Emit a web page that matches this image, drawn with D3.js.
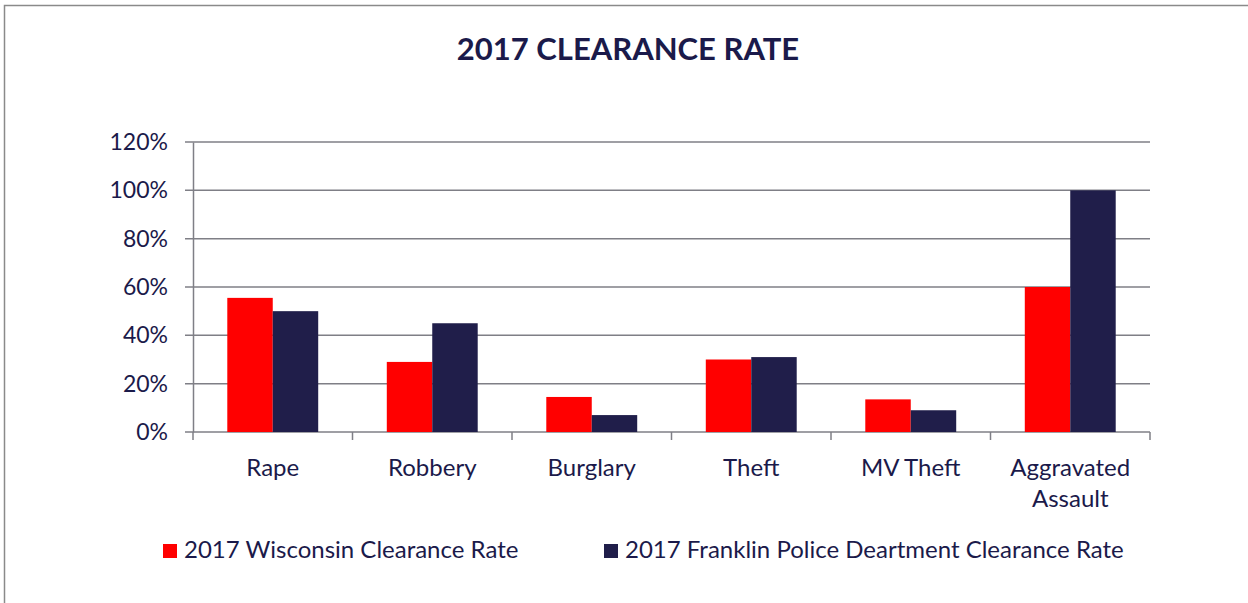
<!DOCTYPE html>
<html>
<head>
<meta charset="utf-8">
<script src="https://cdn.jsdelivr.net/npm/d3@7"></script>
<style>
  body { margin: 0; background: #fff; }
  svg { display: block; font-family: Lato, 'Open Sans', sans-serif; }
</style>
</head>
<body>
<script>
var categories = ['Rape', 'Robbery', 'Burglary', 'Theft', 'MV Theft', 'Aggravated Assault'];
var wisconsin = [0.555, 0.29, 0.145, 0.30, 0.135, 0.60];
var franklin = [0.50, 0.45, 0.07, 0.31, 0.09, 1.00];
var seriesNames = ['2017 Wisconsin Clearance Rate', '2017 Franklin Police Deartment Clearance Rate'];
var yTicks = [0, 0.2, 0.4, 0.6, 0.8, 1.0, 1.2];

var W = 1248, H = 603;
var margin = { top: 142, right: 98, bottom: 171, left: 193 },
    width = W - margin.left - margin.right,
    height = H - margin.top - margin.bottom;

var textColor = '#1b1a4a';
var gridColor = '#7f7f86';
var colors = ['#ff0000', '#201e4a'];

var root = d3.select('body').append('svg')
    .attr('width', W)
    .attr('height', H);

// outer frame
root.append('rect')
    .attr('x', 4.5).attr('y', 5.5)
    .attr('width', W).attr('height', H)
    .attr('fill', 'none')
    .attr('stroke', '#8a8a8a')
    .attr('stroke-width', 1.5);

root.append('text')
    .attr('x', 628).attr('y', 60)
    .attr('text-anchor', 'middle')
    .attr('font-size', 31)
    .attr('font-weight', 'bold')
    .attr('fill', textColor)
    .text('2017 CLEARANCE RATE');

var svg = root.append('g')
    .attr('transform', 'translate(' + margin.left + ',' + margin.top + ')');

var x = d3.scaleBand().domain(categories).range([0, width]).paddingInner(0.43).paddingOuter(0.215);
var step = width / categories.length;
var x1 = d3.scaleBand().domain([0, 1]).range([0, x.bandwidth()]);
var y = d3.scaleLinear().domain([0, 1.2]).range([height, 0]);

// gridlines
svg.append('g')
    .selectAll('line')
    .data(yTicks)
    .enter()
    .append('line')
    .attr('x1', -8).attr('x2', width)
    .attr('y1', function (d) { return y(d); })
    .attr('y2', function (d) { return y(d); })
    .attr('stroke', gridColor)
    .attr('stroke-width', 1.5);

// bars
var groups = svg.append('g')
    .selectAll('g')
    .data(categories)
    .enter()
    .append('g')
    .attr('transform', function (d) { return 'translate(' + x(d) + ',0)'; });

groups.selectAll('rect')
    .data(function (d, i) { return [wisconsin[i], franklin[i]]; })
    .enter()
    .append('rect')
    .attr('x', function (d, j) { return x1(j); })
    .attr('y', function (d) { return y(d); })
    .attr('width', x1.bandwidth())
    .attr('height', function (d) { return height - y(d); })
    .attr('fill', function (d, j) { return colors[j]; });

// y axis
var yAxis = svg.append('g')
    .call(d3.axisLeft(y).tickValues(yTicks).tickSize(0).tickPadding(25).tickFormat(d3.format('.0%')));
yAxis.select('.domain').attr('stroke', gridColor).attr('stroke-width', 1.5);
yAxis.selectAll('text')
    .attr('fill', textColor)
    .attr('font-size', 23)
    .attr('font-family', 'Lato, sans-serif');

// x axis ticks at category boundaries
svg.append('g')
    .selectAll('line')
    .data(d3.range(categories.length + 1))
    .enter()
    .append('line')
    .attr('x1', function (d) { return d * step; })
    .attr('x2', function (d) { return d * step; })
    .attr('y1', height).attr('y2', height + 8)
    .attr('stroke', gridColor)
    .attr('stroke-width', 1.5);

var labels = svg.append('g')
    .selectAll('text')
    .data(categories)
    .enter()
    .append('text')
    .attr('x', function (d) { return x(d) + x.bandwidth() / 2; })
    .attr('y', height + 44)
    .attr('text-anchor', 'middle')
    .attr('font-size', 24)
    .attr('fill', textColor);

labels.each(function (d) {
    var t = d3.select(this);
    var words = d === 'Aggravated Assault' ? ['Aggravated', 'Assault'] : [d];
    words.forEach(function (w, k) {
        t.append('tspan')
            .attr('x', x(d) + x.bandwidth() / 2)
            .attr('dy', k === 0 ? 0 : 31)
            .text(w);
    });
});

// legend
var legendX = [163, 604];
var legend = root.append('g')
    .selectAll('g')
    .data(seriesNames)
    .enter()
    .append('g')
    .attr('transform', function (d, i) { return 'translate(' + legendX[i] + ',544)'; });

legend.append('rect')
    .attr('width', 14).attr('height', 14)
    .attr('fill', function (d, i) { return colors[i]; });

legend.append('text')
    .attr('x', 21).attr('y', 14)
    .attr('font-size', 24)
    .attr('fill', textColor)
    .text(function (d) { return d; });
</script>
</body>
</html>
